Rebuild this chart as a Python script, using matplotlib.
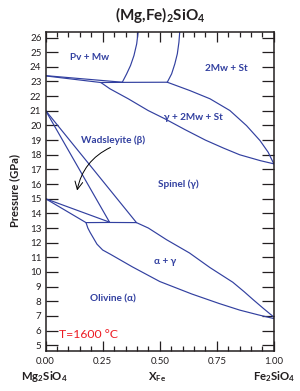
import matplotlib
matplotlib.use("Agg")
from matplotlib import pyplot as plt

plt.rcParams['font.family'] = ['Lato', 'DejaVu Sans']
plt.rcParams['mathtext.fontset'] = 'custom'
plt.rcParams['mathtext.rm'] = 'Lato:bold'
plt.rcParams['mathtext.bf'] = 'Lato:bold'
plt.rcParams['mathtext.it'] = 'Lato:bold'

BLUE = "#3240a0"
RED = "#ed1c24"
INK = "#231f20"

# phase boundaries: X_Fe and pressure (GPa)
pv_upper_x = [0.0, 0.336]
pv_upper_p = [23.40, 22.95]
pv_lower_x = [0.0, 0.242]
pv_lower_p = [23.38, 22.93]
flat23_x = [0.242, 0.336, 0.533]
flat23_p = [22.93, 22.94, 22.95]
pv_edge_x = [0.336, 0.355, 0.372, 0.387, 0.399, 0.406]
pv_edge_p = [22.95, 23.52, 24.09, 24.77, 25.57, 26.48]
mw_edge_x = [0.533, 0.552, 0.566, 0.577, 0.584, 0.588]
mw_edge_p = [22.95, 23.52, 24.20, 24.89, 25.68, 26.48]
st_right_x = [0.533, 0.632, 0.720, 0.807, 0.880, 0.939, 0.975, 0.994, 1.0]
st_right_p = [22.95, 22.38, 21.82, 21.02, 19.99, 18.97, 18.17, 17.56, 17.38]
st_lower_x = [0.242, 0.282, 0.362, 0.449, 0.523, 0.610, 0.700, 0.780, 0.850,
              0.940, 1.0]
st_lower_p = [22.93, 22.50, 21.82, 21.02, 20.45, 19.72, 19.00, 18.45, 18.00,
              17.60, 17.38]

wad_a_x = [0.0, 0.280]
wad_a_p = [21.02, 13.40]
wad_b_x = [0.0, 0.398]
wad_b_p = [21.02, 13.37]
ol_a_x = [0.0, 0.280]
ol_a_p = [15.0, 13.40]
ol_b_x = [0.0, 0.177]
ol_b_p = [15.0, 13.37]
flat13_x = [0.177, 0.280, 0.398]
flat13_p = [13.37, 13.38, 13.37]

ag_upper_x = [0.398, 0.450, 0.530, 0.630, 0.720, 0.820, 0.870, 0.910, 0.955,
              1.0]
ag_upper_p = [13.37, 13.00, 12.20, 11.30, 10.30, 9.30, 8.65, 8.10, 7.50,
              6.92]
ag_lower_x = [0.177, 0.185, 0.195, 0.210, 0.225, 0.250, 0.285, 0.380, 0.500,
              0.640, 0.760, 0.850, 0.930, 1.0]
ag_lower_p = [13.37, 13.00, 12.70, 12.30, 11.90, 11.50, 11.20, 10.35, 9.35,
              8.50, 7.85, 7.40, 7.08, 6.82]

boundaries = [
    (pv_upper_x, pv_upper_p), (pv_lower_x, pv_lower_p), (flat23_x, flat23_p),
    (pv_edge_x, pv_edge_p), (mw_edge_x, mw_edge_p), (st_right_x, st_right_p),
    (st_lower_x, st_lower_p), (wad_a_x, wad_a_p), (wad_b_x, wad_b_p),
    (ol_a_x, ol_a_p), (ol_b_x, ol_b_p), (flat13_x, flat13_p),
    (ag_upper_x, ag_upper_p), (ag_lower_x, ag_lower_p),
]

phase_names = ["Pv + Mw", "2Mw + St", "\u03b3 + 2Mw + St", "Wadsleyite (\u03b2)",
               "Spinel (\u03b3)", "\u03b1 + \u03b3", "Olivine (\u03b1)"]
phase_x = [0.194, 0.793, 0.647, 0.296, 0.581, 0.523, 0.296]
phase_p = [24.66, 23.86, 20.52, 19.02, 16.01, 10.73, 8.16]

arrow_start = (0.284, 18.5)
arrow_end = (0.138, 15.56)

y_ticks = list(range(5, 27))
x_ticks = [0.0, 0.25, 0.5, 0.75, 1.0]
x_tick_labels = ["0.00", "0.25", "0.50", "0.75", "1.00"]

fig = plt.figure(figsize=(3.0, 3.91), dpi=100)
ax = fig.add_axes([0.152, 0.102, 0.761, 0.817])

for bx, bp in boundaries:
    ax.plot(bx, bp, color=BLUE, lw=0.85, solid_capstyle='round')

for name, x, p in zip(phase_names, phase_x, phase_p):
    ax.text(x, p, name, color=BLUE, fontsize=7.2, fontweight='bold',
            ha='center', va='center')

ax.annotate("", xy=arrow_end, xytext=arrow_start,
            arrowprops=dict(arrowstyle="->", color="black", lw=0.7,
                            connectionstyle="arc3,rad=0.25",
                            shrinkA=0, shrinkB=0, mutation_scale=14))

ax.text(0.187, 5.73, "T=1600 \u00b0C", color=RED, fontsize=8.8,
        ha='center', va='center')

ax.set_xlim(0, 1)
ax.set_ylim(4.6, 26.4)
ax.set_yticks(y_ticks)
ax.set_xticks(x_ticks)
ax.set_xticklabels(x_tick_labels)
ax.set_xticks([i * 0.05 for i in range(21)], minor=True)

ax.tick_params(axis='y', which='major', direction='in', left=True, right=True,
               length=8.5, width=0.9, color=INK, labelsize=7, pad=3,
               labelcolor=INK)
ax.tick_params(axis='x', which='major', direction='in', top=True, bottom=True,
               length=7.5, width=0.9, color=INK, labelsize=7, pad=4,
               labelcolor=INK)
ax.tick_params(axis='x', which='minor', direction='in', top=True, bottom=True,
               length=3.8, width=0.9, color=INK)
for s in ax.spines.values():
    s.set_linewidth(1.1)
    s.set_color(INK)

fig.text(0.533, 0.962, "(Mg,Fe)$_2$SiO$_4$", fontsize=11, fontweight='bold',
         ha='center', va='center', color=INK)
fig.text(0.05, 0.514, "Pressure (GPa)", fontsize=8, fontweight='bold',
         rotation=90, ha='center', va='center', color=INK)
fig.text(0.147, 0.036, "Mg$_2$SiO$_4$", fontsize=8.2, fontweight='bold',
         ha='center', va='center', color=INK)
fig.text(0.523, 0.036, "X$_\\mathrm{Fe}$", fontsize=8.2, fontweight='bold',
         ha='center', va='center', color=INK)
fig.text(0.913, 0.036, "Fe$_2$SiO$_4$", fontsize=8.2, fontweight='bold',
         ha='center', va='center', color=INK)

fig.savefig("out.png", dpi=100)
